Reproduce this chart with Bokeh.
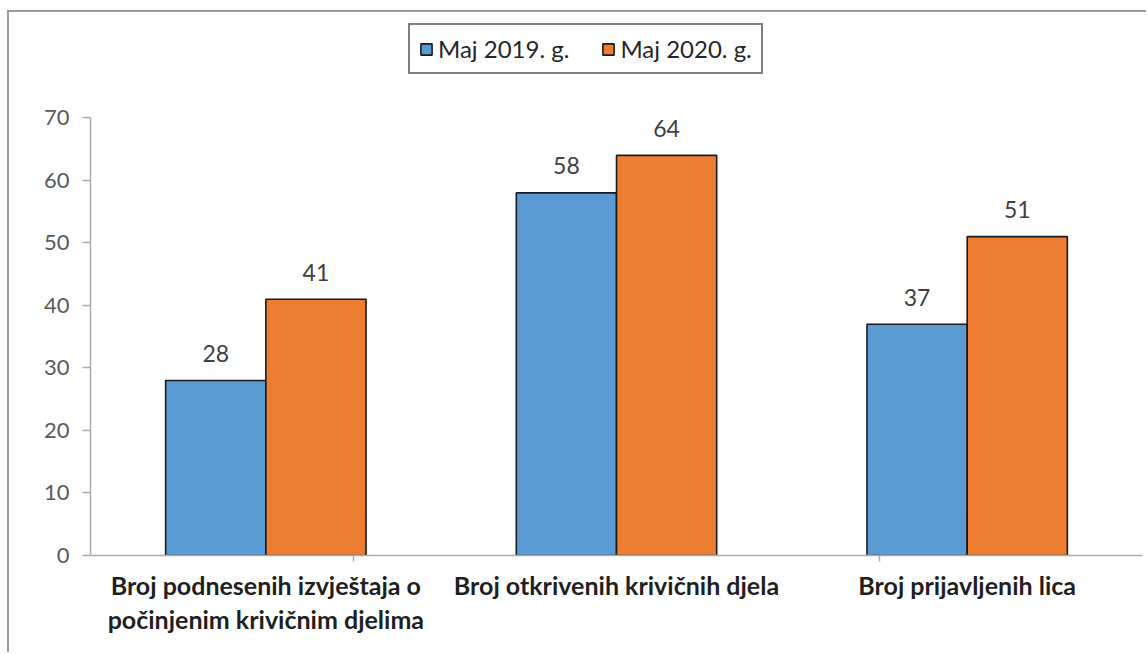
from bokeh.plotting import figure
from bokeh.models import (FactorRange, Range1d, LinearAxis, CategoricalAxis, FixedTicker,
                          ColumnDataSource, Legend, LegendItem)
from bokeh.transform import dodge
from bokeh.core.properties import value
from bokeh.embed import file_html
from bokeh.resources import INLINE

# ---- data ----
categories = [
    "Broj podnesenih izvještaja o počinjenim krivičnim djelima",
    "Broj otkrivenih krivičnih djela",
    "Broj prijavljenih lica",
]
label_line1 = ["Broj podnesenih izvještaja o", "Broj otkrivenih krivičnih djela", "Broj prijavljenih lica"]
label_line2 = ["počinjenim krivičnim djelima", "", ""]
series_names = ["Maj 2019. g.", "Maj 2020. g."]
values_2019 = [28, 58, 37]
values_2020 = [41, 64, 51]
y_ticks = [0, 10, 20, 30, 40, 50, 60, 70]
y_axis_max = 70
boundary_factors = ["b0", "b1", "b2", "b3"]

FONT = "Lato"
BLUE = "#5B9BD5"
ORANGE = "#ED7D31"
AXIS_GRAY = "#ababab"

src = ColumnDataSource(dict(
    cat=categories,
    v2019=values_2019,
    v2020=values_2020,
    t2019=[str(v) for v in values_2019],
    t2020=[str(v) for v in values_2020],
))

# frame extends above the value axis so the legend sits inside it
p = figure(width=1139, height=642,
           x_range=FactorRange(factors=categories, range_padding=0),
           y_range=Range1d(0, y_axis_max * 537 / 436),
           output_backend="svg", toolbar_location=None,
           x_axis_location=None, y_axis_location=None,
           min_border_left=81, min_border_right=6,
           min_border_top=4, min_border_bottom=99)
p.outline_line_color = None
p.background_fill_color = "white"
p.border_fill_color = "white"
p.styles = {"margin-left": "7px", "margin-top": "10px",
            "border-left": "2px solid #9a9a9a", "border-top": "2px solid #9a9a9a",
            "box-sizing": "border-box"}

bw = 0.2857
r1 = p.vbar(x=dodge("cat", -0.1429, range=p.x_range), top="v2019", width=bw, source=src,
            fill_color=BLUE, line_color="#1a1a1a", line_width=1.6)
r2 = p.vbar(x=dodge("cat", 0.1429, range=p.x_range), top="v2020", width=bw, source=src,
            fill_color=ORANGE, line_color="#1a1a1a", line_width=1.6)

for off, col in ((-0.1429, "2019"), (0.1429, "2020")):
    p.text(x=dodge("cat", off, range=p.x_range), y="v" + col, text="t" + col, source=src,
           text_align="center", text_baseline="alphabetic", y_offset=-27,
           text_font=value(FONT), text_font_size="23px", text_color="#404040")

# y axis (line and ticks only from 0 to 70)
yax = LinearAxis(ticker=FixedTicker(ticks=y_ticks), bounds=(0, y_axis_max))
yax.axis_line_color = AXIS_GRAY
yax.axis_line_width = 1.5
yax.major_tick_line_color = AXIS_GRAY
yax.major_tick_line_width = 1.5
yax.major_tick_in = 0
yax.major_tick_out = 8
yax.minor_tick_line_color = None
yax.major_label_standoff = 13
yax.major_label_text_font = FONT
yax.major_label_text_font_size = "22px"
yax.major_label_text_color = "#595959"
p.add_layout(yax, "left")

# category label ranges (same count of factors -> same positions)
line2_factors = [t if t else " " * (i + 1) for i, t in enumerate(label_line2)]
p.extra_x_ranges = {
    "bounds": FactorRange(factors=boundary_factors, range_padding=-1,
                          range_padding_units="absolute"),
    "line1": FactorRange(factors=label_line1, range_padding=0),
    "line2": FactorRange(factors=line2_factors, range_padding=0),
}

# x axis line with ticks on category boundaries
xline = CategoricalAxis(x_range_name="bounds")
xline.axis_line_color = AXIS_GRAY
xline.axis_line_width = 1.5
xline.major_tick_line_color = AXIS_GRAY
xline.major_tick_line_width = 1.5
xline.major_tick_in = 0
xline.major_tick_out = 6
xline.minor_tick_line_color = None
xline.major_label_text_alpha = 0
xline.major_label_text_font_size = "1px"
xline.major_label_standoff = 0
p.add_layout(xline, "below")

for rname, standoff in (("line1", 8), ("line2", 1)):
    ax = CategoricalAxis(x_range_name=rname)
    ax.axis_line_color = None
    ax.major_tick_line_color = None
    ax.minor_tick_line_color = None
    ax.major_tick_out = 0
    ax.major_tick_in = 0
    ax.major_label_standoff = standoff
    ax.major_label_text_font = FONT
    ax.major_label_text_font_style = "bold"
    ax.major_label_text_font_size = "25px"
    ax.major_label_text_color = "#1f1f1f"
    p.add_layout(ax, "below")

for g in p.grid:
    g.visible = False

legend = Legend(items=[LegendItem(label=series_names[0], renderers=[r1]),
                       LegendItem(label=series_names[1], renderers=[r2])],
                orientation="horizontal", location=(318, 481),
                border_line_color="black", border_line_width=2,
                padding=9, spacing=32, label_standoff=5, margin=0,
                glyph_width=14, glyph_height=14,
                label_text_font=FONT, label_text_font_size="24px",
                label_text_color="#262626", background_fill_color="white")
p.add_layout(legend, "center")

open("out.html", "w").write(file_html(p, INLINE))
